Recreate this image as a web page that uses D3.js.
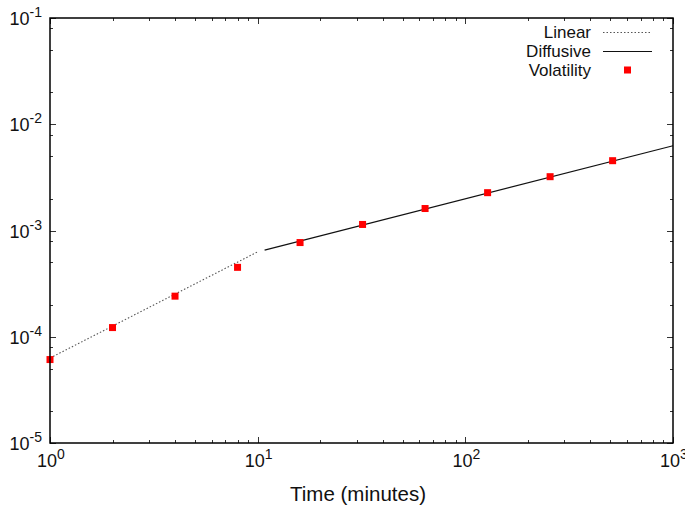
<!DOCTYPE html>
<html>
<head>
<meta charset="utf-8">
<script src="https://cdn.jsdelivr.net/npm/d3@7"></script>
<style>
  body { margin: 0; background: #fff; }
  svg { display: block; font-family: "Liberation Sans", Arial, sans-serif; }
</style>
</head>
<body>
<svg id="chart" width="685" height="508"></svg>
<script>
// data
var times = [1, 2, 4, 8, 16, 32, 64, 128, 256, 512];
var volatility = [6.1e-5, 1.22e-4, 2.41e-4, 4.5e-4, 7.7e-4, 1.14e-3, 1.61e-3, 2.27e-3, 3.21e-3, 4.54e-3];

// fitted lines: linear a*t on [1,10], diffusive b*sqrt(t) on [10.8,1000]
var linearCoef = 6.3e-5;
var linearRange = [1, 10];
var diffusiveCoef = 1.986e-4;
var diffusiveRange = [10.8, 1000];

var xDecades = [1, 10, 100, 1000];
var yDecades = [1e-5, 1e-4, 1e-3, 1e-2, 1e-1];
var xMinorSteps = [2, 3, 4, 5, 6, 7, 8, 9];
var yMinorSteps = [2, 5, 8];

var legendItems = ['Linear', 'Diffusive', 'Volatility'];

var svg = d3.select('#chart');
// note: "top" is taken by window.top, so plot edges get their own names
var pLeft = 50, pRight = 673, pTop = 18, pBottom = 443;

var x = d3.scaleLog().domain([1, 1000]).range([pLeft, pRight]);
var y = d3.scaleLog().domain([1e-5, 1e-1]).range([pBottom, pTop]);

(function main() {
  drawTicks();
  drawLabels();
  drawLines();
  drawPoints();
  drawLegend();
  drawFrame();
})();

function minorsOf(decades, steps) {
  var out = [];
  for (var i = 0; i < decades.length - 1; i++) {
    for (var j = 0; j < steps.length; j++) out.push(decades[i] * steps[j]);
  }
  return out;
}

function drawTicks() {
  var g = svg.append('g').attr('stroke', '#333').attr('stroke-width', 1);
  var xMin = minorsOf(xDecades, xMinorSteps);
  var yMin = minorsOf(yDecades, yMinorSteps);

  function xt(vals, len) {
    vals.forEach(function(v) {
      var px = Math.round(x(v)) + 0.5;
      g.append('line').attr('x1', px).attr('x2', px).attr('y1', pBottom).attr('y2', pBottom - len);
      g.append('line').attr('x1', px).attr('x2', px).attr('y1', pTop).attr('y2', pTop + len);
    });
  }
  function yt(vals, len) {
    vals.forEach(function(v) {
      var py = Math.round(y(v)) + 0.5;
      g.append('line').attr('y1', py).attr('y2', py).attr('x1', pLeft).attr('x2', pLeft + len);
      g.append('line').attr('y1', py).attr('y2', py).attr('x1', pRight).attr('x2', pRight - len);
    });
  }
  xt(xDecades, 6);
  xt(xMin, 3);
  yt(yDecades, 6);
  yt(yMin, 3);
}

function powLabel(sel, exp) {
  sel.append('tspan').text('10');
  sel.append('tspan').attr('dy', -8).style('font-size', '14px').text(exp);
}

function drawLabels() {
  yDecades.forEach(function(v) {
    var t = svg.append('text')
      .attr('x', 42)
      .attr('y', y(v) + 7)
      .attr('text-anchor', 'end')
      .style('font-size', '18px')
      .style('fill', '#111');
    powLabel(t, Math.round(Math.log10(v)));
  });
  xDecades.forEach(function(v) {
    var t = svg.append('text')
      .attr('x', x(v) + 1)
      .attr('y', 467)
      .attr('text-anchor', 'middle')
      .style('font-size', '18px')
      .style('fill', '#111');
    powLabel(t, Math.round(Math.log10(v)));
  });
  svg.append('text')
    .attr('x', 358)
    .attr('y', 501)
    .attr('text-anchor', 'middle')
    .style('font-size', '20.5px')
    .style('fill', '#111')
    .text('Time (minutes)');
}

function drawLines() {
  var line = d3.line()
    .x(function(d) { return x(d[0]); })
    .y(function(d) { return y(d[1]); });

  var lin = linearRange.map(function(t) { return [t, linearCoef * t]; });
  var dif = diffusiveRange.map(function(t) { return [t, diffusiveCoef * Math.sqrt(t)]; });

  svg.append('path')
    .attr('d', line(lin))
    .attr('fill', 'none')
    .attr('stroke', '#555')
    .attr('stroke-width', 1.1)
    .attr('stroke-dasharray', '1.5,2');
  svg.append('path')
    .attr('d', line(dif))
    .attr('fill', 'none')
    .attr('stroke', '#111')
    .attr('stroke-width', 1.2);
}

function drawPoints() {
  svg.append('g').selectAll('rect')
    .data(times.map(function(t, i) { return [t, volatility[i]]; }))
    .enter().append('rect')
    .attr('x', function(d) { return x(d[0]) - 3.5; })
    .attr('y', function(d) { return y(d[1]) - 3.5; })
    .attr('width', 7)
    .attr('height', 7)
    .attr('fill', '#ff0000');
}

function drawLegend() {
  var rowY = [32, 51, 70];
  legendItems.forEach(function(name, i) {
    svg.append('text')
      .attr('x', 591)
      .attr('y', rowY[i] + 6)
      .attr('text-anchor', 'end')
      .style('font-size', '17px')
      .style('fill', '#111')
      .text(name);
  });
  svg.append('line')
    .attr('x1', 603).attr('x2', 652)
    .attr('y1', rowY[0] + 0.5).attr('y2', rowY[0] + 0.5)
    .attr('stroke', '#555').attr('stroke-width', 1.1)
    .attr('stroke-dasharray', '1.5,2');
  svg.append('line')
    .attr('x1', 603).attr('x2', 652)
    .attr('y1', rowY[1] + 0.5).attr('y2', rowY[1] + 0.5)
    .attr('stroke', '#111').attr('stroke-width', 1.2);
  svg.append('rect')
    .attr('x', 624).attr('y', rowY[2] - 3.5)
    .attr('width', 7).attr('height', 7)
    .attr('fill', '#ff0000');
}

function drawFrame() {
  svg.append('rect')
    .attr('x', pLeft).attr('y', pTop)
    .attr('width', pRight - pLeft).attr('height', pBottom - pTop)
    .attr('fill', 'none')
    .attr('stroke', '#000')
    .attr('stroke-width', 1.5);
}
</script>
</body>
</html>
